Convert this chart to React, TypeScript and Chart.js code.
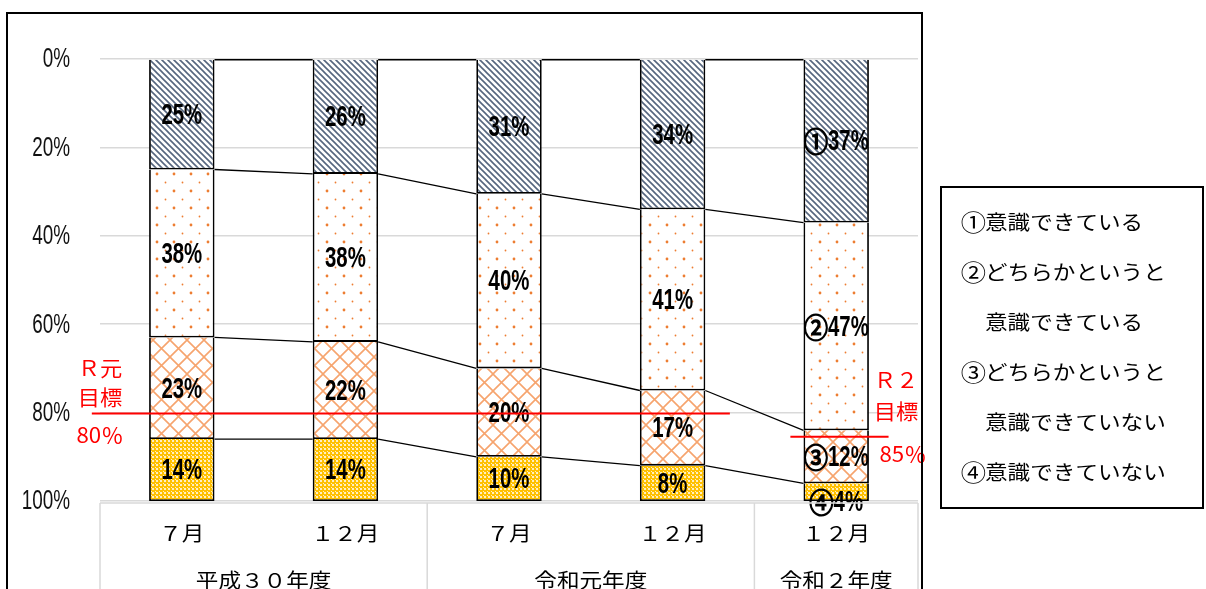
import React, { useEffect, useRef } from "react";
import { Chart, registerables } from "chart.js";

Chart.register(...registerables);

// ---- data ----
const months = ["７月", "１２月", "７月", "１２月", "１２月"];
const fiscalYears = ["平成３０年度", "令和元年度", "令和２年度"];
const fiscalYearSpans = [2, 2, 1];
const seriesLabels = [
  "①意識できている",
  "②どちらかというと\n意識できている",
  "③どちらかというと\n意識できていない",
  "④意識できていない",
];
const seriesMarks = ["①", "②", "③", "④"];
const aware = [25, 26, 30.5, 34, 37];
const ratherAware = [38, 38, 39.5, 41, 47];
const ratherNotAware = [23, 22, 20, 17, 12];
const notAware = [14, 14, 10, 8, 4];
const markedCategory = 4;
const yTickValues = [0, 20, 40, 60, 80, 100];
const targetValues = [80, 85];
const targetLabels = [
  ["Ｒ元", "目標", "80％"],
  ["Ｒ２", "目標", "85％"],
];

const CJK = '"Noto Sans CJK JP", "Noto Sans CJK SC", sans-serif';

function drawScaled(
  ctx: CanvasRenderingContext2D,
  text: string,
  x: number,
  y: number,
  font: string,
  sx: number,
  align: "left" | "center" | "right",
  color = "#000",
  strokeW = 0
) {
  ctx.save();
  ctx.font = font;
  const w = ctx.measureText(text).width * sx;
  const left = align === "center" ? x - w / 2 : align === "right" ? x - w : x;
  ctx.translate(left, y);
  ctx.scale(sx, 1);
  ctx.textAlign = "left";
  ctx.textBaseline = "middle";
  ctx.fillStyle = color;
  ctx.fillText(text, 0, 0);
  if (strokeW > 0) {
    ctx.strokeStyle = color;
    ctx.lineWidth = strokeW;
    ctx.strokeText(text, 0, 0);
  }
  ctx.restore();
  return w;
}

function makePattern(
  ctx: CanvasRenderingContext2D,
  size: number,
  draw: (g: CanvasRenderingContext2D, s: number) => void
) {
  const c = document.createElement("canvas");
  c.width = size;
  c.height = size;
  const g = c.getContext("2d")!;
  draw(g, size);
  return ctx.createPattern(c, "repeat")!;
}

export default function App() {
  const ref = useRef<HTMLCanvasElement>(null);

  useEffect(() => {
    const canvas = ref.current!;
    const ctx = canvas.getContext("2d")!;

    const hatch = makePattern(ctx, 6, (g, s) => {
      g.fillStyle = "#fff";
      g.fillRect(0, 0, s, s);
      g.strokeStyle = "#56667F";
      g.lineWidth = 1.6;
      g.beginPath();
      g.moveTo(-1, -1);
      g.lineTo(s + 1, s + 1);
      g.moveTo(-1, s - 1);
      g.lineTo(1, s + 1);
      g.moveTo(s - 1, -1);
      g.lineTo(s + 1, 1);
      g.stroke();
    });
    const dots = makePattern(ctx, 17, (g, s) => {
      g.fillStyle = "#fff";
      g.fillRect(0, 0, s, s);
      g.fillStyle = "#ED7D31";
      g.beginPath();
      g.arc(4, 4, 1.4, 0, Math.PI * 2);
      g.fill();
      g.beginPath();
      g.arc(12.5, 12.5, 0.9, 0, Math.PI * 2);
      g.fill();
    });
    const lattice = makePattern(ctx, 17, (g, s) => {
      g.fillStyle = "#fff";
      g.fillRect(0, 0, s, s);
      g.strokeStyle = "#F6A46E";
      g.lineWidth = 1.6;
      g.beginPath();
      g.moveTo(0, 0);
      g.lineTo(s, s);
      g.moveTo(0, s);
      g.lineTo(s, 0);
      g.stroke();
    });
    const gold = makePattern(ctx, 4, (g, s) => {
      g.fillStyle = "#FFC000";
      g.fillRect(0, 0, s, s);
      g.fillStyle = "#FFEFC0";
      g.fillRect(0, 0, 2, 2);
      g.fillRect(3, 3, 1, 1);
    });
    const patterns = [hatch, dots, lattice, gold];
    const series = [aware, ratherAware, ratherNotAware, notAware];

    const bgPlugin = {
      id: "bg",
      beforeDraw(chart: any) {
        const c = chart.ctx;
        c.save();
        c.fillStyle = "#fff";
        c.fillRect(0, 0, chart.width, chart.height);
        c.restore();
      },
    };

    const barsPlugin = {
      id: "barsExtra",
      afterDatasetsDraw(chart: any) {
        const c: CanvasRenderingContext2D = chart.ctx;
        // series lines
        c.save();
        c.strokeStyle = "#000";
        c.lineWidth = 1.3;
        const n = chart.data.datasets.length;
        for (let di = 0; di < n; di++) {
          const meta = chart.getDatasetMeta(di);
          const els = meta.data as any[];
          const levels: ((e: any) => number)[] = [];
          if (di === 0) levels.push((e) => e.base);
          if (di < n - 1) levels.push((e) => e.y);
          levels.forEach((f) => {
            for (let i = 0; i < els.length - 1; i++) {
              const a = els[i];
              const b = els[i + 1];
              c.beginPath();
              c.moveTo(a.x + a.width / 2, f(a));
              c.lineTo(b.x - b.width / 2, f(b));
              c.stroke();
            }
          });
        }
        c.restore();
        // labels
        chart.data.datasets.forEach((ds: any, di: number) => {
          const meta = chart.getDatasetMeta(di);
          (meta.data as any[]).forEach((el, i) => {
            const v = ds.data[i] as number;
            const top = Math.min(el.y, el.base);
            const bottom = Math.max(el.y, el.base);
            let y = (top + bottom) / 2;
            if (bottom - top < 20) y = bottom + 1;
            const txt = Math.round(v) + "%";
            const mark = i === markedCategory ? seriesMarks[di] : "";
            const numFont = 'bold 30px "Liberation Sans", Arial, sans-serif';
            const markFont = `27px ${CJK}`;
            c.save();
            c.font = numFont;
            const wNum = c.measureText(txt).width * 0.68;
            c.font = markFont;
            const wMark = mark ? c.measureText(mark).width * 0.9 : 0;
            c.restore();
            const left = el.x - (wNum + wMark) / 2;
            if (mark) drawScaled(c, mark, left, y + 1, markFont, 0.9, "left", "#000", 1.4);
            drawScaled(c, txt, left + wMark, y + 1, numFont, 0.68, "left");
          });
        });
      },
    };

    const decoPlugin = {
      id: "deco",
      afterDraw(chart: any) {
        const c: CanvasRenderingContext2D = chart.ctx;
        const a = chart.chartArea;
        const xs = chart.scales.x;
        const ys = chart.scales.y;

        // y tick labels
        yTickValues.forEach((v) => {
          drawScaled(c, v + "%", 70, ys.getPixelForValue(v) + 1, '27px "Liberation Sans", Arial, sans-serif', 0.7, "right", "#111");
        });

        // x axis box
        const yTop = a.bottom + 2;
        c.save();
        c.strokeStyle = "#D9D9D9";
        c.lineWidth = 1.5;
        c.beginPath();
        c.moveTo(a.left, yTop);
        c.lineTo(a.right, yTop);
        const verticals = [a.left, a.right];
        let idx = 0;
        fiscalYearSpans.forEach((span, gi) => {
          idx += span;
          if (gi < fiscalYearSpans.length - 1) {
            verticals.push((xs.getPixelForValue(idx - 1) + xs.getPixelForValue(idx)) / 2);
          }
        });
        verticals.forEach((x) => {
          c.moveTo(x, yTop);
          c.lineTo(x, chart.height + 5);
        });
        c.stroke();
        c.restore();

        const cjkFont = `20px ${CJK}`;
        months.forEach((m, i) => {
          drawScaled(c, m, xs.getPixelForValue(i), 533, cjkFont, 1.13, "center");
        });
        let start = 0;
        fiscalYears.forEach((g, gi) => {
          const span = fiscalYearSpans[gi];
          const cx = (xs.getPixelForValue(start) + xs.getPixelForValue(start + span - 1)) / 2;
          drawScaled(c, g, cx, 580, cjkFont, 1.13, "center");
          start += span;
        });

        // target lines
        const lineRanges = [
          [-0.55, 3.35],
          [3.72, 4.32],
        ];
        const textX = [100, 896];
        const textY = [
          [368, 397, 435],
          [380, 411, 454],
        ];
        const textDX = [
          [0, 0, 0],
          [0, 0, 7],
        ];
        const redFont = `21px ${CJK}`;
        targetValues.forEach((tv, ti) => {
          const y = ys.getPixelForValue(tv) + (ti === 0 ? 1 : 2);
          c.save();
          c.strokeStyle = "#FF0000";
          c.lineWidth = 2;
          c.beginPath();
          c.moveTo(xs.getPixelForValue(lineRanges[ti][0]), y);
          c.lineTo(xs.getPixelForValue(lineRanges[ti][1]), y);
          c.stroke();
          c.restore();
          targetLabels[ti].forEach((t, k) => {
            drawScaled(c, t, textX[ti] + textDX[ti][k], textY[ti][k], redFont, 1.06, "center", "#FF0000");
          });
        });

        // legend
        c.save();
        c.strokeStyle = "#000";
        c.lineWidth = 2;
        c.strokeRect(941, 187, 262, 321);
        c.restore();
        let row = 0;
        seriesLabels.forEach((lab) => {
          lab.split("\n").forEach((line, li) => {
            const y = 222 + row * 50;
            if (li === 0) {
              const mark = line.charAt(0);
              drawScaled(c, mark, 986, y, `23px ${CJK}`, 1.1, "right");
              drawScaled(c, line.slice(1), 985, y, cjkFont, 1.13, "left");
            } else {
              drawScaled(c, line, 985, y, cjkFont, 1.13, "left");
            }
            row++;
          });
        });

        // outer frame
        c.save();
        c.strokeStyle = "#000";
        c.lineWidth = 2;
        c.strokeRect(7, 13, 915, 640);
        c.restore();
      },
    };

    const chart = new Chart(canvas, {
      type: "bar",
      data: {
        labels: months,
        datasets: series.map((d, i) => ({
          label: seriesLabels[i],
          data: d,
          backgroundColor: patterns[i] as any,
          borderColor: "#000",
          borderWidth: 1.8,
          barPercentage: 0.4,
          categoryPercentage: 1,
        })),
      },
      options: {
        responsive: false,
        maintainAspectRatio: false,
        animation: false,
        events: [],
        layout: { padding: { left: 0, top: 59, right: 288, bottom: 88 } },
        plugins: { legend: { display: false }, tooltip: { enabled: false } },
        scales: {
          x: { stacked: true, display: false },
          y: {
            stacked: true,
            reverse: true,
            min: 0,
            max: 100,
            ticks: { stepSize: 20, display: false },
            grid: { color: "#D9D9D9", lineWidth: 1.5, drawTicks: false },
            border: { display: false },
            afterFit: (s: any) => {
              s.width = 100;
            },
          },
        },
      },
      plugins: [bgPlugin, barsPlugin, decoPlugin],
    });

    return () => chart.destroy();
  }, []);

  return (
    <div style={{ position: "fixed", left: 0, top: 0, width: 1206, height: 589, background: "#fff", overflow: "hidden" }}>
      <canvas ref={ref} width={1206} height={589} style={{ width: 1206, height: 589, display: "block" }} />
    </div>
  );
}
